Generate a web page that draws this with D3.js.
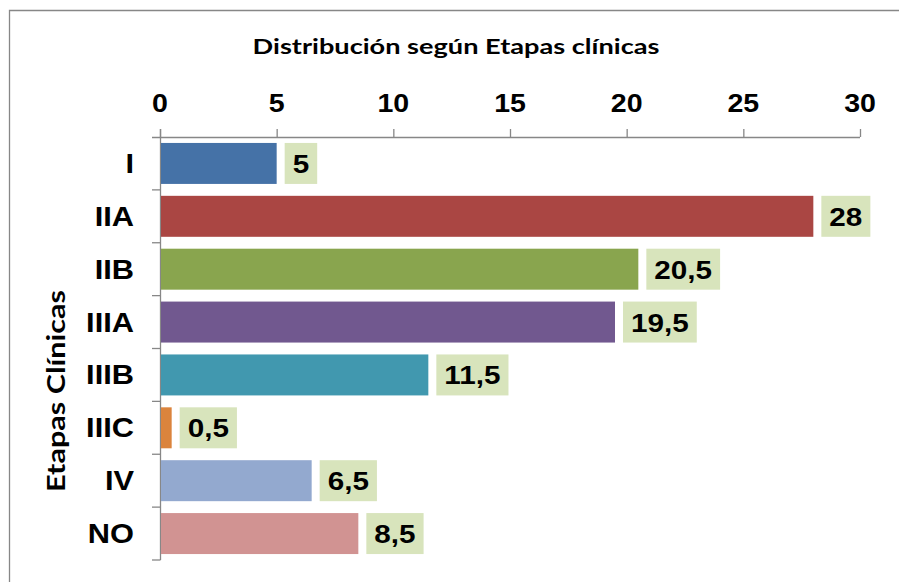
<!DOCTYPE html>
<html>
<head>
<meta charset="utf-8">
<script src="https://cdn.jsdelivr.net/npm/d3@7"></script>
<style>
  body { margin: 0; background: #fff; }
  svg { display: block; }
</style>
</head>
<body>
<svg id="chart" width="899" height="582"></svg>
<script>
// datos
let etapas = ["I", "IIA", "IIB", "IIIA", "IIIB", "IIIC", "IV", "NO"]
let valores = [5, 28, 20.5, 19.5, 11.5, 0.5, 6.5, 8.5]
let colores = ["#4572a7", "#aa4643", "#89a54e", "#71588f", "#4198af", "#db843d", "#93a9cf", "#d19392"]
let ticksX = [0, 5, 10, 15, 20, 25, 30]
let titulo = "Distribución según Etapas clínicas"
let tituloY = "Etapas Clínicas"

let svg = d3.select("#chart")
let arial = "'Liberation Sans', Arial, sans-serif"
let calibri = "Lato, 'Open Sans', sans-serif"
let gris = "#878787"

let xScale = d3.scaleLinear().domain([0, 30]).range([160, 860])
let yScale = d3.scaleBand().domain(etapas).range([137, 560])
    .paddingInner(0.225).paddingOuter(0.1125)

let fmt = v => String(v).replace(".", ",")

// estira un texto horizontalmente hasta el ancho pedido
function estirar(sel, ancho) {
    let w = sel.node().getComputedTextLength()
    return ancho / w
}

// marco
svg.append("path")
    .attr("d", "M9.5,590 L9.5,10.5 L905,10.5")
    .attr("fill", "none")
    .attr("stroke", gris)
    .attr("stroke-width", 1.3)

// titulo
let gt = svg.append("g")
let t = gt.append("text")
    .text(titulo)
    .attr("font-family", calibri)
    .attr("font-weight", "bold")
    .attr("font-size", 20.5)
    .attr("text-anchor", "middle")
    .attr("fill", "#000")
gt.attr("transform", `translate(456,54) scale(${estirar(t, 407)},1)`)

// titulo eje
let gy = svg.append("g")
let ty = gy.append("text")
    .text(tituloY)
    .attr("font-family", calibri)
    .attr("font-weight", "bold")
    .attr("font-size", 20.5)
    .attr("text-anchor", "middle")
    .attr("fill", "#000")
gy.attr("transform", `translate(65,391) rotate(-90) scale(${estirar(ty, 202)},1.2)`)

// eje superior
let xAxis = d3.axisTop(xScale).tickValues(ticksX).tickSize(8).tickSizeOuter(0).tickFormat("")
let xg = svg.append("g").attr("transform", "translate(0,137)").call(xAxis)
xg.select(".domain").attr("stroke", gris).attr("stroke-width", 1.3)
    .attr("d", `M152,0.5H${xScale(30)}`)
xg.selectAll(".tick line").attr("stroke", gris).attr("stroke-width", 1.3)

svg.selectAll(".xlab")
    .data(ticksX)
    .join("g")
    .attr("class", "xlab")
    .attr("transform", d => `translate(${xScale(d)},112) scale(1.12,1)`)
    .append("text")
    .text(d => d)
    .attr("font-family", arial)
    .attr("font-weight", "bold")
    .attr("font-size", 25.5)
    .attr("text-anchor", "middle")

// eje vertical
let step = yScale.step()
let limites = d3.range(etapas.length + 1).map(i => yScale.range()[0] + i * step)
svg.append("line")
    .attr("x1", 160.5).attr("x2", 160.5)
    .attr("y1", 129).attr("y2", limites[limites.length - 1])
    .attr("stroke", gris).attr("stroke-width", 1.3)
svg.selectAll(".ytick")
    .data(limites.slice(1))
    .join("line")
    .attr("class", "ytick")
    .attr("x1", 152).attr("x2", 160.5)
    .attr("y1", d => d).attr("y2", d => d)
    .attr("stroke", gris).attr("stroke-width", 1.3)

svg.selectAll(".ylab")
    .data(etapas)
    .join("g")
    .attr("class", "ylab")
    .attr("transform", d => `translate(134,${yScale(d) + yScale.bandwidth() / 2 + 9.5}) scale(1.08,1)`)
    .append("text")
    .text(d => d)
    .attr("font-family", arial)
    .attr("font-weight", "bold")
    .attr("font-size", 28.5)
    .attr("text-anchor", "end")

// barras
svg.selectAll(".barra")
    .data(etapas)
    .join("rect")
    .attr("class", "barra")
    .attr("x", xScale(0) + 1)
    .attr("y", (d, i) => yScale(d))
    .attr("width", (d, i) => xScale(valores[i]) - xScale(0) - 1)
    .attr("height", yScale.bandwidth())
    .attr("fill", (d, i) => colores[i])

// etiquetas de datos
etapas.forEach((e, i) => {
    let x0 = xScale(valores[i]) + 8
    let yc = yScale(e) + yScale.bandwidth() / 2
    let g = svg.append("g")
    let r = g.append("rect")
        .attr("y", yScale(e))
        .attr("height", yScale.bandwidth())
        .attr("fill", "#d8e4bc")
    let tg = g.append("g")
    let tx = tg.append("text")
        .text(fmt(valores[i]))
        .attr("font-family", arial)
        .attr("font-weight", "bold")
        .attr("font-size", 26.5)
        .attr("text-anchor", "middle")
    let w = tx.node().getComputedTextLength() * 1.12
    r.attr("x", x0).attr("width", w + 16)
    tg.attr("transform", `translate(${x0 + (w + 16) / 2},${yc + 9.5}) scale(1.12,1)`)
})
</script>
</body>
</html>
